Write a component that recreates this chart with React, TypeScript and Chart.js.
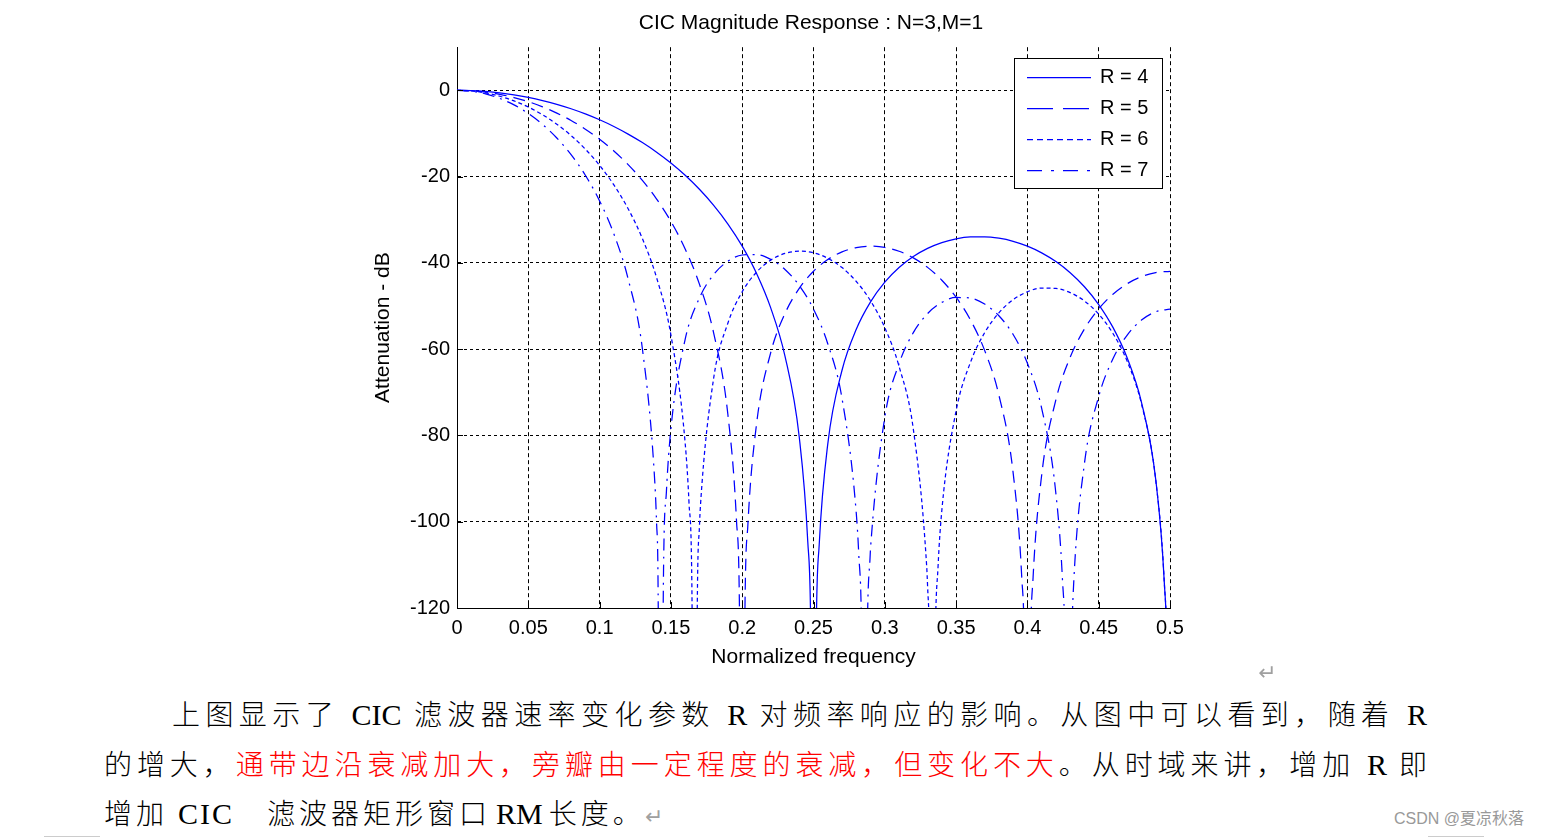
import React, { useEffect, useRef } from "react";
import { Chart, registerables } from "chart.js";

Chart.register(...registerables);

// ---------- data (dB values) ----------
const freqGrid = [
  0, 0.01, 0.02, 0.03, 0.04, 0.05, 0.06, 0.07, 0.08, 0.09,
  0.1, 0.11, 0.12, 0.13, 0.14, 0.15, 0.16, 0.17, 0.18, 0.19,
  0.2, 0.21, 0.22, 0.23, 0.24, 0.25, 0.26, 0.27, 0.28, 0.29,
  0.3, 0.31, 0.32, 0.33, 0.34, 0.35, 0.36, 0.37, 0.38, 0.39,
  0.4, 0.41, 0.42, 0.43, 0.44, 0.45, 0.46, 0.47, 0.48, 0.49,
  0.5,
];

const r4Db = [
  0, -0.06, -0.26, -0.58, -1.04, -1.63, -2.36, -3.24, -4.27, -5.47,
  -6.83, -8.38, -10.14, -12.11, -14.34, -16.85, -19.7, -22.94, -26.66, -30.99,
  -36.12, -42.4, -50.43, -61.61, -80.36, -200, -82.0, -64.89, -55.37, -49.02,
  -44.45, -41.05, -38.51, -36.63, -35.29, -34.42, -33.98, -33.94, -34.28, -35.0,
  -36.12, -37.67, -39.7, -42.28, -45.53, -49.65, -54.95, -62.05, -72.33, -90.23,
  -200,
];
const r5Db = [
  0, -0.1, -0.41, -0.93, -1.67, -2.63, -3.82, -5.27, -6.99, -9.0,
  -11.34, -14.05, -17.21, -20.88, -25.21, -30.39, -36.76, -44.92, -56.28, -75.27,
  -200, -77.52, -60.81, -51.74, -45.91, -41.94, -39.22, -37.45, -36.45, -36.12,
  -36.42, -37.31, -38.84, -41.04, -44.02, -47.96, -53.18, -60.28, -70.64, -88.69,
  -200, -89.22, -71.71, -61.88, -55.32, -50.65, -47.25, -44.83, -43.19, -42.25,
  -41.94,
];
const r6Db = [
  0, -0.15, -0.6, -1.37, -2.45, -3.87, -5.66, -7.85, -10.48, -13.63,
  -17.4, -21.92, -27.44, -34.36, -43.47, -56.71, -81.77, -101.22, -66.69, -53.93,
  -46.69, -42.17, -39.36, -37.81, -37.28, -37.66, -38.92, -41.09, -44.31, -48.79,
  -55.01, -63.99, -78.54, -114.91, -97.36, -74.28, -63.11, -56.19, -51.59, -48.54,
  -46.69, -45.84, -45.91, -46.89, -48.83, -51.89, -56.36, -62.83, -72.68, -90.31,
  -200,
];
const r7Db = [
  0, -0.21, -0.83, -1.88, -3.38, -5.37, -7.9, -11.04, -14.91, -19.68,
  -25.63, -33.27, -43.7, -59.91, -100.58, -78.47, -57.72, -48.12, -42.69, -39.6,
  -38.17, -38.07, -39.18, -41.52, -45.24, -50.71, -58.73, -71.42, -98.03, -106.15,
  -75.78, -63.35, -56.17, -51.75, -49.16, -48.02, -48.15, -49.53, -52.25, -56.61,
  -63.25, -73.71, -93.51, -140.25, -86.5, -70.96, -62.23, -56.73, -53.26, -51.33,
  -50.71,
];

// extra samples around the nulls (notches)
const r4NotchFreq = [0.246, 0.248, 0.252, 0.254, 0.496, 0.498];
const r4NotchDb = [-104.7, -122.92, -123.24, -105.35, -114.06, -132.11];
const r5NotchFreq = [0.196, 0.198, 0.202, 0.204, 0.396, 0.398, 0.402, 0.404];
const r5NotchDb = [-99.76, -118.04, -118.49, -100.66, -112.65, -130.75, -130.86, -112.86];
const r6NotchFreq = [
  0.162667, 0.164667, 0.166667, 0.168667, 0.170667,
  0.329333, 0.331333, 0.333333, 0.335333, 0.337333,
  0.496, 0.498,
];
const r6NotchDb = [
  -95.44, -113.77, -200, -114.34, -96.57,
  -110.13, -128.27, -200, -128.46, -110.51,
  -114.07, -132.12,
];
const r7NotchFreq = [
  0.138857, 0.140857, 0.142857, 0.144857, 0.146857,
  0.281714, 0.283714, 0.285714, 0.287714, 0.289714,
  0.424571, 0.426571, 0.428571, 0.430571, 0.432571,
];
const r7NotchDb = [
  -91.63, -110.02, -200, -110.7, -92.99,
  -107.4, -125.57, -200, -125.83, -107.93,
  -113.34, -131.42, -200, -131.49, -113.49,
];

const seriesLabels = ["R = 4", "R = 5", "R = 6", "R = 7"];
const xTickLabels = ["0", "0.05", "0.1", "0.15", "0.2", "0.25", "0.3", "0.35", "0.4", "0.45", "0.5"];
const yTickLabels = ["-120", "-100", "-80", "-60", "-40", "-20", "0"];

// ---------- styles ----------
const LINE_COLOR = "#0000ff";
const LINE_WIDTH = 1.25;
const CHART_FONT = "'Liberation Sans', Arial, Helvetica, sans-serif";
const plotDashes = [[], [12, 7], [4, 3], [12, 6, 2, 6]];
const legendDashes = [[], [26, 10], [6, 4], [15, 9, 3, 9]];

function buildPoints(grid: number[], extraF: number[], extraV: number[]) {
  const pts = freqGrid.map((f, i) => ({ x: f, y: grid[i] }));
  extraF.forEach((f, i) => pts.push({ x: f, y: extraV[i] }));
  pts.sort((a, b) => a.x - b.x);
  return pts;
}

const inwardTicks = {
  id: "inwardTicks",
  afterDatasetsDraw(chart: any) {
    const { ctx, chartArea } = chart;
    const xs = chart.scales.x;
    const ys = chart.scales.y;
    ctx.save();
    ctx.strokeStyle = "#000";
    ctx.lineWidth = 1;
    ctx.setLineDash([]);
    ctx.beginPath();
    xs.ticks.forEach((t: any) => {
      const px = Math.round(xs.getPixelForValue(t.value)) + 0.5;
      ctx.moveTo(px, chartArea.bottom);
      ctx.lineTo(px, chartArea.bottom - 6);
    });
    ys.ticks.forEach((t: any) => {
      const py = Math.round(ys.getPixelForValue(t.value)) + 0.5;
      ctx.moveTo(chartArea.left, py);
      ctx.lineTo(chartArea.left + 6, py);
    });
    ctx.stroke();
    ctx.restore();
  },
};

const boxLegend = {
  id: "boxLegend",
  afterDraw(chart: any) {
    const { ctx, chartArea } = chart;
    const w = 148;
    const h = 130;
    const lx = Math.round(chartArea.right - 156);
    const ly = Math.round(chartArea.top + 11);
    ctx.save();
    ctx.fillStyle = "#ffffff";
    ctx.fillRect(lx, ly, w, h);
    ctx.strokeStyle = "#000";
    ctx.lineWidth = 1;
    ctx.setLineDash([]);
    ctx.strokeRect(lx + 0.5, ly + 0.5, w, h);
    chart.data.datasets.forEach((ds: any, i: number) => {
      const yy = Math.round(ly + 19 + i * 31) + 0.5;
      ctx.beginPath();
      ctx.setLineDash(legendDashes[i]);
      ctx.strokeStyle = LINE_COLOR;
      ctx.lineWidth = LINE_WIDTH;
      ctx.moveTo(lx + 13, yy);
      ctx.lineTo(lx + 77, yy);
      ctx.stroke();
      ctx.setLineDash([]);
      ctx.fillStyle = "#000";
      ctx.font = `20px ${CHART_FONT}`;
      ctx.textBaseline = "middle";
      ctx.textAlign = "left";
      ctx.fillText(ds.label, lx + 86, yy);
    });
    ctx.restore();
  },
};

function CicChart() {
  const ref = useRef<HTMLCanvasElement | null>(null);
  useEffect(() => {
    if (!ref.current) return;
    const series = [
      buildPoints(r4Db, r4NotchFreq, r4NotchDb),
      buildPoints(r5Db, r5NotchFreq, r5NotchDb),
      buildPoints(r6Db, r6NotchFreq, r6NotchDb),
      buildPoints(r7Db, r7NotchFreq, r7NotchDb),
    ];
    const chart = new Chart(ref.current, {
      type: "line",
      data: {
        datasets: series.map((pts, i) => ({
          label: seriesLabels[i],
          data: pts,
          borderColor: LINE_COLOR,
          backgroundColor: LINE_COLOR,
          borderWidth: LINE_WIDTH,
          borderDash: plotDashes[i],
          pointRadius: 0,
          fill: false,
          cubicInterpolationMode: "monotone",
          yAxisID: "y",
        })),
      },
      options: {
        responsive: false,
        animation: false,
        events: [],
        layout: { padding: 0 },
        plugins: {
          legend: { display: false },
          tooltip: { enabled: false },
          title: {
            display: true,
            text: "CIC Magnitude Response : N=3,M=1",
            color: "#000",
            font: { family: CHART_FONT, size: 21, weight: "normal" },
            padding: { top: 11, bottom: 11 },
          },
        },
        scales: {
          x: {
            type: "linear",
            min: 0,
            max: 0.5,
            ticks: {
              stepSize: 0.05,
              includeBounds: false,
              autoSkip: false,
              maxRotation: 0,
              padding: 8,
              color: "#000",
              font: { family: CHART_FONT, size: 20 },
              callback: (_v: any, i: number) => xTickLabels[i],
            },
            grid: { color: "#000", lineWidth: 1, drawTicks: false },
            border: { display: true, color: "#000", width: 1, dash: [4, 3] },
            title: {
              display: true,
              text: "Normalized frequency",
              color: "#000",
              font: { family: CHART_FONT, size: 21 },
              padding: { top: 0, bottom: 10 },
            },
            afterFit: (s: any) => {
              s.height = 72;
            },
          },
          y: {
            type: "linear",
            position: "left",
            min: -120,
            max: 10,
            ticks: {
              stepSize: 20,
              includeBounds: false,
              padding: 7,
              color: "#000",
              font: { family: CHART_FONT, size: 20 },
              callback: (_v: any, i: number) => yTickLabels[i],
            },
            grid: { color: "#000", lineWidth: 1, drawTicks: false },
            border: { display: true, color: "#000", width: 1, dash: [3, 3] },
            title: {
              display: true,
              text: "Attenuation - dB",
              color: "#000",
              font: { family: CHART_FONT, size: 21 },
              padding: { top: 11, bottom: 0 },
            },
            afterFit: (s: any) => {
              s.width = 97;
            },
          },
          // empty right-hand margin so the title centres like the original figure
          yRight: {
            type: "linear",
            position: "right",
            display: true,
            grid: { display: false, drawTicks: false },
            border: { display: false },
            ticks: { display: false },
            afterFit: (s: any) => {
              s.width = 92;
            },
          },
        },
      },
      plugins: [inwardTicks, boxLegend],
    } as any);
    return () => chart.destroy();
  }, []);
  return (
    <canvas
      ref={ref}
      width={902}
      height={680}
      style={{ position: "absolute", left: 360, top: 0, width: 902, height: 680 }}
    />
  );
}

const TEXT_FONT = "'Liberation Serif', 'Noto Sans CJK SC', serif";
const RED = "#ff0000";
const MARK_COLOR = "#a0a0a0";
const latin: React.CSSProperties = { fontSize: 30 };

export default function App() {
  const lineStyle: React.CSSProperties = {
    position: "absolute",
    height: 50,
    lineHeight: "50px",
    fontSize: 28,
    fontFamily: TEXT_FONT,
    fontWeight: 300,
    color: "#000",
    whiteSpace: "nowrap",
  };
  return (
    <div
      style={{
        position: "absolute",
        left: 0,
        top: 0,
        width: 1546,
        height: 838,
        overflow: "hidden",
        background: "#ffffff",
      }}
    >
      <CicChart />
      <div
        style={{
          position: "absolute",
          left: 1258,
          top: 660,
          fontSize: 22,
          lineHeight: "26px",
          fontFamily: "'DejaVu Sans', sans-serif",
          color: MARK_COLOR,
        }}
      >
        ↵
      </div>
      <div
        lang="zh-CN"
        style={{ ...lineStyle, left: 172, top: 690, width: 1255, textAlign: "justify", textAlignLast: "justify" }}
      >
        上图显示了 <span style={latin}>CIC</span> 滤波器速率变化参数 <span style={latin}>R</span> 对频率响应的影响。从图中可以看到，随着 <span style={latin}>R</span>
      </div>
      <div
        lang="zh-CN"
        style={{ ...lineStyle, left: 104, top: 740, width: 1323, textAlign: "justify", textAlignLast: "justify" }}
      >
        的增大，<span style={{ color: RED }}>通带边沿衰减加大，旁瓣由一定程度的衰减，但变化不大</span>。从时域来讲，增加 <span style={latin}>R</span> 即
      </div>
      <div lang="zh-CN" style={{ ...lineStyle, left: 104, top: 789, letterSpacing: 4 }}>
        <span>增加</span>
        <span style={{ ...latin, marginLeft: 10, letterSpacing: 2 }}>CIC</span>
        <span style={{ marginLeft: 33 }}>滤波器矩形窗口</span>
        <span style={{ ...latin, marginLeft: 5, letterSpacing: 0 }}>RM</span>
        <span style={{ marginLeft: 6 }}>长度。</span>
        <span
          style={{
            fontFamily: "'DejaVu Sans', sans-serif",
            fontSize: 22,
            color: MARK_COLOR,
            letterSpacing: 0,
            marginLeft: 0,
          }}
        >
          ↵
        </span>
      </div>
      <div
        style={{
          position: "absolute",
          left: 1394,
          top: 808,
          fontSize: 16,
          lineHeight: "22px",
          fontFamily: "'Liberation Sans', 'Noto Sans CJK SC', sans-serif",
          color: "#999999",
          whiteSpace: "nowrap",
        }}
      >
        CSDN @夏凉秋落
      </div>
      <div style={{ position: "absolute", left: 44, top: 836, width: 56, height: 1, background: "#cccccc" }} />
      <div style={{ position: "absolute", left: 1428, top: 836, width: 56, height: 1, background: "#cccccc" }} />
    </div>
  );
}
